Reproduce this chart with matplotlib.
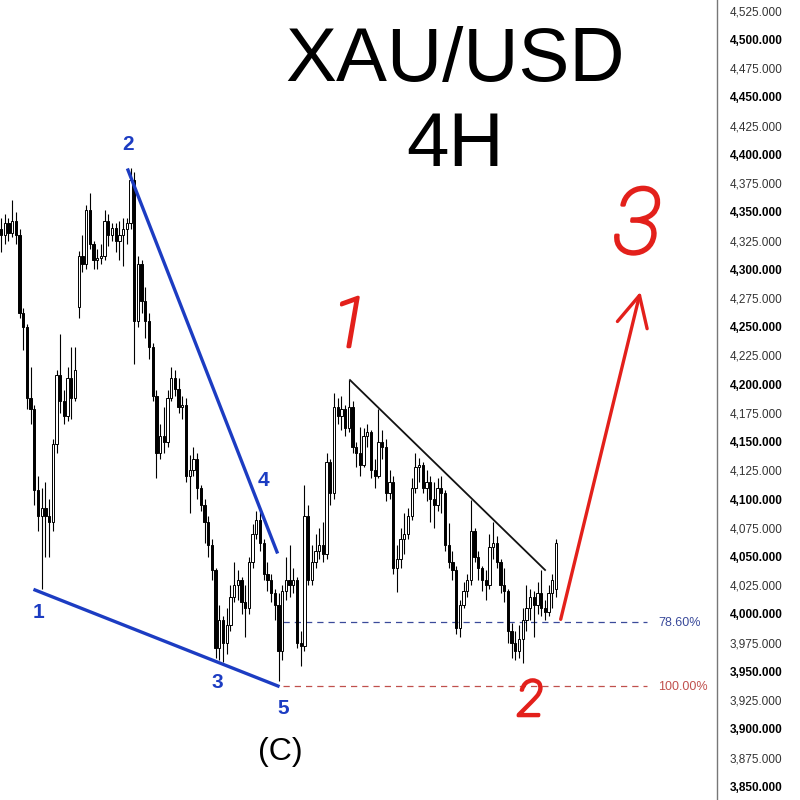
import matplotlib
matplotlib.use("Agg")
import matplotlib.pyplot as plt
import matplotlib.patheffects as pe
import numpy as np

plt.rcParams['font.family'] = ['Liberation Sans', 'DejaVu Sans']

# 4H candles
opens = [4335, 4330, 4340, 4332, 4342, 4330, 4262, 4250, 4188, 4178,
         4108, 4085, 4092, 4085, 4080, 4148, 4208, 4185, 4172, 4205,
         4188, 4267, 4312, 4305, 4352, 4322, 4308, 4310, 4312, 4342,
         4330, 4336, 4325, 4330, 4335, 4340, 4378, 4255, 4305, 4272,
         4255, 4232, 4190, 4140, 4155, 4150, 4188, 4205, 4196, 4180,
         4182, 4120, 4125, 4135, 4110, 4095, 4080, 4060, 4038, 3970,
         3995, 3975, 3990, 4015, 4025, 4030, 4010, 4005, 4045, 4070,
         4082, 4062, 4035, 4030, 4018, 4008, 3968, 4020, 4030, 4025,
         4030, 3975, 3972, 4085, 4030, 4045, 4055, 4060, 4052, 4132,
         4105, 4180, 4172, 4178, 4162, 4180, 4145, 4140, 4130, 4155,
         4158, 4125, 4120, 4150, 4145, 4105, 4115, 4040, 4048, 4065,
         4070, 4085, 4110, 4128, 4130, 4110, 4115, 4100, 4095, 4110,
         4105, 4060, 4045, 4038, 3988, 4008, 4020, 4030, 4072, 4050,
         4040, 4030, 4025, 4058, 4062, 4045, 4025, 4020, 3985, 3975,
         3968, 3978, 3995, 4005, 4015, 4008, 4018, 4005, 4002, 4018,
         4022]
highs = [4345, 4348, 4345, 4360, 4350, 4335, 4266, 4252, 4215, 4182,
         4120, 4110, 4115, 4100, 4152, 4212, 4244, 4195, 4215, 4232,
         4232, 4316, 4330, 4356, 4366, 4325, 4318, 4322, 4352, 4348,
         4340, 4340, 4342, 4345, 4345, 4388, 4385, 4312, 4308, 4285,
         4262, 4236, 4195, 4165, 4180, 4195, 4215, 4212, 4205, 4190,
         4188, 4138, 4145, 4140, 4112, 4100, 4085, 4065, 4040, 4008,
         3998, 4005, 4025, 4045, 4038, 4032, 4025, 4050, 4078, 4090,
         4092, 4065, 4045, 4035, 4022, 4018, 4025, 4050, 4060, 4040,
         4032, 3985, 4112, 4095, 4060, 4070, 4075, 4080, 4140, 4135,
         4192, 4188, 4190, 4182, 4204, 4185, 4150, 4163, 4162, 4165,
         4160, 4135, 4178, 4160, 4152, 4125, 4120, 4060, 4075, 4088,
         4092, 4118, 4140, 4136, 4132, 4125, 4120, 4115, 4118, 4120,
         4108, 4079, 4055, 4042, 4012, 4028, 4035, 4099, 4075, 4055,
         4042, 4038, 4070, 4080, 4068, 4048, 4040, 4022, 3992, 3985,
         3990, 4005, 4025, 4022, 4020, 4028, 4038, 4012, 4025, 4035,
         4065]
lows = [4315, 4322, 4325, 4328, 4322, 4258, 4230, 4178, 4165, 4095,
        4072, 4022, 4050, 4050, 4072, 4140, 4175, 4165, 4168, 4170,
        4185, 4258, 4298, 4300, 4318, 4300, 4300, 4305, 4308, 4320,
        4325, 4315, 4308, 4303, 4322, 4335, 4218, 4250, 4262, 4240,
        4222, 4185, 4118, 4135, 4140, 4145, 4185, 4190, 4175, 4170,
        4115, 4088, 4120, 4100, 4090, 4062, 4050, 4030, 3962, 3960,
        3958, 3965, 3985, 4010, 4012, 4000, 3980, 4000, 4040, 4065,
        4055, 4030, 4020, 4010, 3995, 3942, 3960, 4012, 4015, 4018,
        3970, 3955, 3968, 4025, 4025, 4040, 4048, 4045, 4048, 4095,
        4100, 4165, 4160, 4155, 4158, 4140, 4128, 4120, 4128, 4145,
        4118, 4110, 4118, 4135, 4098, 4100, 4035, 4019, 4040, 4052,
        4065, 4082, 4105, 4115, 4105, 4098, 4080, 4075, 4090, 4088,
        4055, 4040, 4030, 3983, 3980, 4005, 4015, 4025, 4045, 4030,
        4020, 4012, 4022, 4048, 4040, 4018, 4010, 3975, 3962, 3960,
        3962, 3957, 3985, 3995, 3980, 4000, 3998, 3995, 3998, 4005,
        4015]
closes = [4330, 4340, 4332, 4342, 4330, 4262, 4250, 4188, 4178, 4108,
          4085, 4092, 4085, 4080, 4148, 4208, 4185, 4172, 4205, 4188,
          4212, 4312, 4305, 4352, 4322, 4308, 4310, 4312, 4342, 4330,
          4336, 4325, 4330, 4335, 4340, 4378, 4255, 4305, 4272, 4255,
          4232, 4190, 4140, 4155, 4150, 4188, 4205, 4196, 4180, 4182,
          4120, 4125, 4135, 4110, 4095, 4080, 4060, 4038, 3970, 3995,
          3975, 3990, 4015, 4025, 4030, 4010, 4005, 4045, 4070, 4082,
          4062, 4035, 4030, 4018, 4008, 3968, 4020, 4030, 4025, 4030,
          3975, 3972, 4085, 4030, 4045, 4055, 4060, 4052, 4132, 4105,
          4180, 4172, 4178, 4162, 4180, 4145, 4140, 4130, 4155, 4158,
          4125, 4120, 4150, 4145, 4105, 4115, 4040, 4048, 4065, 4070,
          4085, 4110, 4128, 4130, 4110, 4115, 4100, 4095, 4110, 4105,
          4060, 4045, 4038, 3988, 4008, 4020, 4030, 4072, 4050, 4040,
          4030, 4025, 4058, 4062, 4045, 4025, 4020, 3985, 3975, 3968,
          3978, 3995, 4005, 4015, 4008, 4018, 4005, 4002, 4018, 4030,
          4062]

fib_levels = [3993.0, 3937.3]
fib_labels = ["78.60%", "100.00%"]
price_ticks = list(range(3850, 4526, 25))

fig = plt.figure(figsize=(8, 8), dpi=100)
ax = fig.add_axes([0, 0, 717 / 800, 1])
ax.set_xlim(-0.27, 193.5)
ax.set_ylim(3838.1, 4534.4)

o = np.array(opens, float)
c = np.array(closes, float)
h = np.array(highs, float)
l = np.array(lows, float)
idx = np.arange(len(c))
up = c >= o

ax.vlines(idx, l, h, color="black", lw=0.8, zorder=2)
body_lo = np.minimum(o, c)
body_h = np.maximum(np.abs(c - o), 0.8)
ax.bar(idx[up], body_h[up], bottom=body_lo[up], width=0.62,
       facecolor="white", edgecolor="black", linewidth=0.7, zorder=3)
ax.bar(idx[~up], body_h[~up], bottom=body_lo[~up], width=0.62,
       facecolor="black", edgecolor="black", linewidth=0.7, zorder=3)

# wave lines
blue = "#1c3cc2"
ax.plot([9.19, 74.86], [4020.9, 3937.3], color=blue, lw=2.4, zorder=4)
ax.plot([34.32, 74.59], [4386.4, 4054.0], color=blue, lw=2.4, zorder=4)
ax.plot([94.32, 147.03], [4203.6, 4038.3], color="#111111", lw=1.3, zorder=4)

# fib levels
ax.plot([76.2, 174.6], [fib_levels[0]] * 2, color="#3a4a9a", lw=0.9,
        dashes=(5, 4), zorder=1)
ax.plot([76.2, 174.6], [fib_levels[1]] * 2, color="#c0504d", lw=0.9,
        dashes=(5, 4), zorder=1)
fig.text(658 / 800, 1 - 623 / 800, fib_labels[0], color="#3a4a9a",
         fontsize=9, va="center", ha="left")
fig.text(658 / 800, 1 - 687 / 800, fib_labels[1], color="#c0504d",
         fontsize=9, va="center", ha="left")

# red arrow
red = "#e3201b"
ax.annotate("", xy=(172.97, 4282.8), xytext=(151.08, 3993.0),
            arrowprops=dict(arrowstyle="->,head_length=2.2,head_width=1.1",
                            color=red, lw=2.4), zorder=5)

# texts
fig.text(455 / 800, 1 - 62 / 800, "XAU/USD", fontsize=55, ha="center", va="center")
fig.text(455 / 800, 1 - 147 / 800, "4H", fontsize=55, ha="center", va="center")
fig.text(280 / 800, 1 - 752 / 800, "(C)", fontsize=23, ha="center", va="center")

for s, (px, py) in zip(["1", "2", "3", "4", "5"],
                       [(38, 612), (128, 145), (217, 682), (263, 480), (283, 708)]):
    fig.text(px / 800, 1 - py / 800, s, fontsize=15, fontweight="bold",
             color=blue, ha="center", va="center")

# hand-drawn wave count: thin font thickened with a stroke
for s, (px, py), fs in zip(["1", "2", "3"], [(350, 328), (530, 702), (637, 228)],
                           [50, 36, 66]):
    fig.text(px / 800, 1 - py / 800, s, fontsize=fs, color=red, ha="center",
             va="center", style="italic", fontweight="light",
             family=["Roboto", "DejaVu Sans"],
             path_effects=[pe.withStroke(linewidth=2.2, foreground=red)])

# price axis on the right
for sp in ["top", "left", "bottom"]:
    ax.spines[sp].set_visible(False)
ax.spines["right"].set_color("#777777")
ax.spines["right"].set_linewidth(1.0)
ax.set_xticks([])
ax.yaxis.tick_right()
ax.set_yticks(price_ticks)
ax.set_yticklabels([f"{v:,.3f}" for v in price_ticks])
ax.tick_params(axis="y", length=0, pad=9, labelsize=8.5)
for v, lab in zip(price_ticks, ax.get_yticklabels()):
    if v % 50 == 0:
        lab.set_fontweight("bold")
        lab.set_color("black")
    else:
        lab.set_color("#333333")

fig.savefig("out.png", dpi=100)
